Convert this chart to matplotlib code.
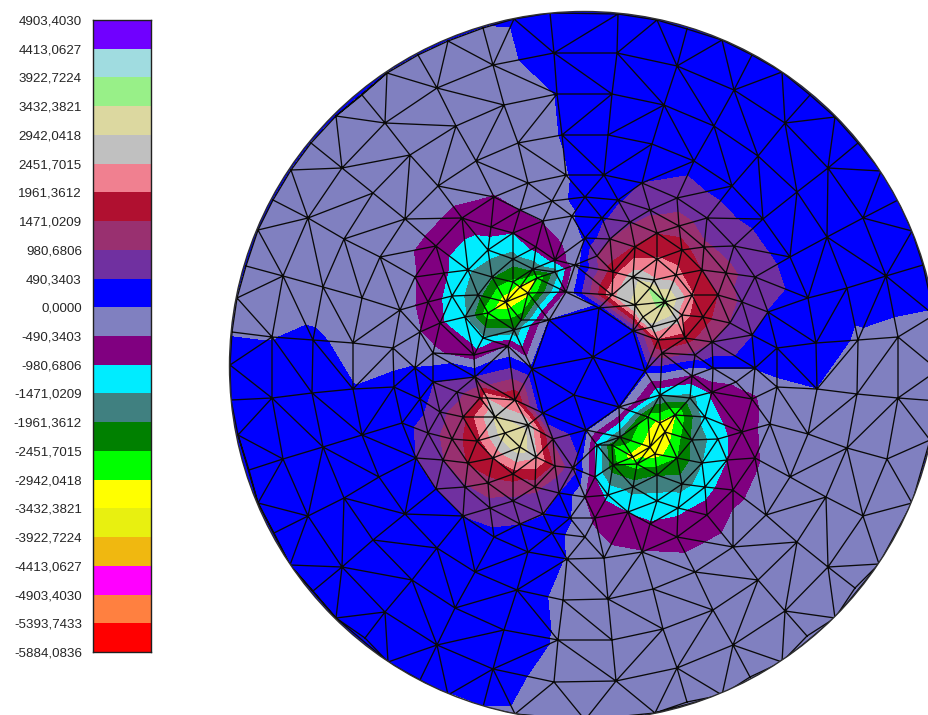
import numpy as np
import matplotlib
matplotlib.use("Agg")
import matplotlib.pyplot as plt
import matplotlib.tri as mtri
from matplotlib.patches import Circle

#--------------------DATA------------------------#
level_labels = ['-5884,0836', '-5393,7433', '-4903,4030', '-4413,0627', '-3922,7224', '-3432,3821',
                '-2942,0418', '-2451,7015', '-1961,3612', '-1471,0209', '-980,6806', '-490,3403',
                '0,0000', '490,3403', '980,6806', '1471,0209', '1961,3612', '2451,7015',
                '2942,0418', '3432,3821', '3922,7224', '4413,0627', '4903,4030']
levels = [-5884.0836, -5393.7433, -4903.4030, -4413.0627, -3922.7224, -3432.3821,
          -2942.0418, -2451.7015, -1961.3612, -1471.0209, -980.6806, -490.3403,
          0.0, 490.3403, 980.6806, 1471.0209, 1961.3612, 2451.7015,
          2942.0418, 3432.3821, 3922.7224, 4413.0627, 4903.4030]
band_colors = ['#ff0000', '#ff8040', '#ff00ff', '#f0b810', '#e8f010', '#ffff00',
               '#00ff00', '#008000', '#408080', '#00ecff', '#800080', '#8080c0',
               '#0000ff', '#7030a0', '#993070', '#b01030', '#f08090', '#c0c0c0',
               '#dcd8a0', '#98f088', '#a0dce0', '#7000ff']

# mesh nodes: (x px, y px, value)
rim_nodes = [(550,13,300),(514,19,30),(483,28,-10),(448,41,-20),(418,55,-20),(387,73,-20),(362,95,-20),
             (336,116,-20),(311,143,-20),(291,170,-20),(273,200,-20),(258,230,-20),(246,266,-20),
             (237,298,-20),(232,332,-10),(230,365,60),(231,400,200),(238,435,200),(249,470,200),
             (258,503,200),(274,533,200),(290,565,200),(313,591,200),(336,618,60),(365,638,60),
             (388,662,150),(420,680,50),(448,695,-20),(483,707,-10),(515,714,-60),
             (618,14,200),(657,20,200),(687,29,150),(722,40,150),(752,55,150),(782,72,150),
             (810,95,150),(835,117,150),(858,143,150),(881,171,150),(898,200,150),(912,231,150),
             (923,265,150),(934,315,-30),(938,370,-80),(938,401,-80),(930,440,-50),
             (912,503,-40),(879,564,-40),(855,588,-40),(835,618,-40),(807,636,-40),(782,662,-40),
             (750,677,-40),(722,695,-40),(687,702,-40),(655,713,-60),(585,720,-150)]

gray_upper_nodes = [(493,65,-150),(437,88,-200),(504,105,-200),(557,94,10),(385,123,-200),(456,126,-200),
                    (518,143,-200),(562,135,15),(342,168,-200),(410,155,-200),(476,161,-200),(528,183,-200),
                    (566,175,-30),(438,186,-160),(373,193,-200),(308,218,-200),(405,219,-150),(552,201,-100),
                    (344,239,-200),(380,257,-180),(283,276,-200),(323,287,-200),(362,298,-180),(272,337,-10),
                    (313,340,60),(353,343,-100),(393,348,-150),(572,216,-40),(415,277,-480),(400,310,-250),
                    (420,332,-480),(433,353,-380)]

blue_upper_nodes = [(554,53,200),(617,53,350),(677,66,350),(734,90,350),(664,105,350),(612,94,350),
                    (785,123,300),(714,126,350),(608,135,350),(652,144,350),(828,168,250),(758,156,350),
                    (694,161,350),(604,175,350),(797,192,300),(732,186,300),(585,197,100),(863,218,250),
                    (763,219,300),(827,237,300),(790,257,300),(886,276,200),(847,288,120),(808,298,250),
                    (816,343,200),(777,348,300),(585,238,60)]

blue_lower_nodes = [(272,398,200),(312,393,150),(353,389,15),(394,387,100),(415,368,15),(420,399,300),
                    (402,423,300),(362,435,300),(323,447,300),(283,459,300),(416,458,490),(379,477,300),
                    (344,498,300),(308,516,300),(405,514,300),(373,540,300),(437,548,300),(494,537,350),
                    (552,533,150),(342,567,300),(528,552,200),(475,572,300),(412,580,300),(517,590,200),
                    (455,608,300),(385,612,300),(504,630,200),(437,645,300),(493,669,250),(570,518,30),
                    (559,493,480),(573,468,700)]

gray_lower_nodes = [(713,368,30),(755,368,10),(777,387,-100),(817,389,-10),(857,394,-100),(898,398,-100),
                    (898,337,-100),(858,340,-50),(752,399,-600),(770,424,-350),(808,434,-200),(847,448,-200),
                    (887,459,-200),(790,477,-200),(826,497,-200),(863,516,-200),(766,515,-300),(797,542,-200),
                    (733,547,-300),(828,567,-200),(695,572,-250),(758,580,-200),(653,589,-200),(608,599,-200),
                    (563,600,-100),(713,610,-200),(785,611,-200),(663,629,-200),(612,640,-200),(558,640,-40),
                    (733,645,-200),(677,668,-200),(616,681,-200),(554,682,-200),(585,537,-250),(604,558,-300),
                    (567,559,-20),(585,497,-520)]

center_nodes = [(593,357,350),(599,308,80),(633,331,250),(645,371,100),(619,407,20),(586,430,50),
                (574,395,300),(543,413,150),(532,369,100),(549,320,0)]

# pole at upper left
pole_ul_nodes = [(494,197,-520),(462,218,-700),(520,210,-500),(543,221,-480),(491,227,-800),(513,233,-980),
                 (436,246,-700),(488,250,-1250),(536,247,-800),(513,259,-1700),(468,270,-1400),(444,273,-900),
                 (492,277,-1950),(533,269,-1900),(555,260,-800),(575,265,-300),(452,296,-1200),(478,295,-1800),
                 (428,302,-700),(513,282,-2600),(537,278,-2900),(555,272,-1800),(520,287,-3200),(506,302,-3300),
                 (528,293,-3100),(465,317,-1450),(488,313,-2800),(566,292,-500),(483,338,-1400),(514,330,-1900),
                 (474,355,-800),(440,323,-900),(521,320,-2200),(508,346,-500)]

# pole at upper right
pole_ur_nodes = [(642,183,490),(618,200,420),(677,198,700),(650,210,850),(602,218,380),(707,218,700),
                 (630,222,900),(679,226,1250),(657,233,1450),(734,246,800),(610,239,950),(704,247,1050),
                 (682,250,1700),(635,247,1500),(597,256,1000),(657,259,2000),(726,273,1100),(702,270,1450),
                 (676,275,2100),(755,277,800),(613,272,1700),(633,277,2700),(654,280,2500),(612,295,2300),
                 (650,288,3450),(665,302,3600),(692,295,2000),(718,295,1450),(742,302,850),(768,312,470),
                 (635,305,3100),(643,317,3100),(682,315,2100),(703,317,1700),(730,323,950),(752,335,490),
                 (652,327,2800),(677,320,2600),(658,340,1900),(685,338,1700),(712,342,1000),(695,355,800),
                 (662,353,1300)]

# pole at lower left
pole_ll_nodes = [(433,382,460),(457,392,750),(475,377,480),(480,398,1500),(487,398,2400),(515,400,1900),
                 (440,412,800),(463,417,1400),(495,417,3000),(428,433,700),(452,439,1250),(477,441,1750),
                 (505,433,3300),(528,425,2800),(520,447,3300),(553,439,900),(443,460,950),(468,463,1500),
                 (493,458,1950),(536,457,2500),(555,466,1300),(513,474,1700),(436,489,490),(465,487,900),
                 (488,483,1300),(535,487,1100),(513,501,850),(490,508,750),(463,516,490),(520,524,490),
                 (543,514,500)]

# pole at lower right
pole_lr_nodes = [(736,382,-400),(692,376,-600),(712,392,-900),(660,395,-1450),(690,398,-1700),(675,415,-3000),
                 (705,417,-1300),(648,417,-2700),(660,423,-3100),(742,432,-700),(718,439,-1200),(692,440,-1900),
                 (665,432,-3300),(620,437,-2000),(612,445,-2400),(597,445,-1200),(650,447,-3300),(755,458,-550),
                 (727,460,-1000),(702,463,-1500),(677,458,-2500),(655,454,-3200),(633,457,-3200),(613,465,-2300),
                 (637,464,-2700),(595,477,-1000),(657,475,-2000),(682,484,-1700),(705,487,-1200),(733,490,-600),
                 (633,487,-1700),(608,495,-1100),(657,501,-1250),(628,512,-1000),(678,508,-1100),(707,515,-750),
                 (650,524,-950),(595,518,-600),(677,537,-700),(642,552,-480)]

#--------------------PLOTTING------------------------#
all_nodes = np.array(rim_nodes + gray_upper_nodes + blue_upper_nodes + blue_lower_nodes + gray_lower_nodes
                     + center_nodes + pole_ul_nodes + pole_ur_nodes + pole_ll_nodes + pole_lr_nodes, dtype=float)
node_x = all_nodes[:, 0]
node_y = all_nodes[:, 1]
node_v = all_nodes[:, 2]

plt.rcParams['font.family'] = ['Liberation Sans', 'DejaVu Sans']
fig = plt.figure(figsize=(9.29, 7.15), dpi=100, facecolor='white')

ax = fig.add_axes([0, 0, 1, 1])
ax.set_xlim(0, 929)
ax.set_ylim(715, 0)
ax.axis('off')

disc = Circle((584, 366), 354.5, facecolor='#0000ff', edgecolor='none', zorder=1)
ax.add_patch(disc)

mesh = mtri.Triangulation(node_x, node_y)
filled = ax.tricontourf(mesh, node_v, levels=levels, colors=band_colors, zorder=2)
filled.set_clip_path(disc)
lines = ax.triplot(mesh, color='#0a0a0a', lw=0.95, zorder=3)
for ln in lines:
    ln.set_clip_path(disc)
ax.add_patch(Circle((584, 366), 354.5, facecolor='none', edgecolor='#303030', lw=1.0, zorder=4))

# level legend
cax = fig.add_axes([93 / 929, 1 - 652 / 715, 57.5 / 929, 632 / 715])
bottoms = np.array(levels[:-1])
heights = np.diff(levels)
cax.bar(0, heights, bottom=bottoms, width=1, color=band_colors)
cax.set_xlim(-0.5, 0.5)
cax.set_ylim(levels[0], levels[-1])
cax.set_xticks([])
cax.set_yticks(levels)
cax.set_yticklabels(level_labels, fontsize=9.6, color='#262626')
cax.tick_params(axis='y', length=0, pad=8)
for s in cax.spines.values():
    s.set_linewidth(1.0)
    s.set_color('#202020')

fig.savefig('out.png', dpi=100)
